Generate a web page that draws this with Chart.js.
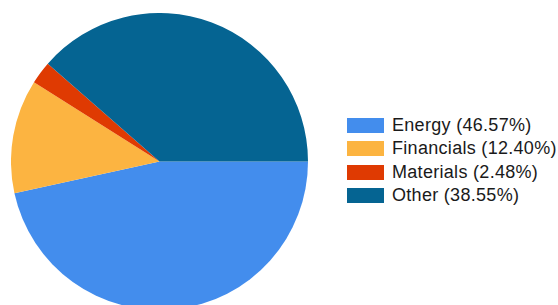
<!DOCTYPE html>
<html lang="en">
<head>
    <meta charset="UTF-8">
    <title>Sector Breakdown</title>
    <script src="https://cdn.jsdelivr.net/npm/chart.js@4.4.0/dist/chart.umd.min.js"></script>
    <style>
        html, body {
            margin: 0;
            padding: 0;
            width: 558px;
            height: 305px;
            overflow: hidden;
            background: #ffffff;
            font-family: "Liberation Sans", Arial, sans-serif;
        }
        .chart-container {
            position: absolute;
            left: 11px;
            top: 13px;
            width: 297px;
            height: 297px;
        }
        .legend {
            position: absolute;
            left: 347px;
            top: 114px;
            list-style: none;
            margin: 0;
            padding: 0;
        }
        .legend li {
            display: flex;
            align-items: center;
            height: 23.3px;
            font-size: 18px;
            letter-spacing: 0.3px;
            color: #1a1a1a;
            white-space: nowrap;
        }
        .legend .swatch {
            display: inline-block;
            width: 37px;
            height: 15px;
            margin-right: 8px;
        }
    </style>
</head>
<body>
    <div class="chart-container">
        <canvas id="sectorChart"></canvas>
    </div>
    <ul class="legend" id="legend"></ul>

    <script>
        // Sector shares (%)
        const sectors = ['Energy', 'Financials', 'Materials', 'Other'];
        const shares = [46.57, 12.40, 2.48, 38.55];
        const colors = ['#438DED', '#FCB441', '#DF3A02', '#056492'];

        const ctx = document.getElementById('sectorChart').getContext('2d');
        new Chart(ctx, {
            type: 'pie',
            data: {
                labels: sectors,
                datasets: [{
                    data: shares,
                    backgroundColor: colors,
                    borderWidth: 0
                }]
            },
            options: {
                responsive: true,
                maintainAspectRatio: false,
                animation: false,
                rotation: 90,
                layout: { padding: 0 },
                plugins: {
                    legend: { display: false },
                    tooltip: { enabled: false }
                }
            }
        });

        // Build the legend beside the pie
        const legend = document.getElementById('legend');
        sectors.forEach((name, i) => {
            const li = document.createElement('li');
            const sw = document.createElement('span');
            sw.className = 'swatch';
            sw.style.backgroundColor = colors[i];
            li.appendChild(sw);
            li.appendChild(document.createTextNode(name + ' (' + shares[i].toFixed(2) + '%)'));
            legend.appendChild(li);
        });
    </script>
</body>
</html>
